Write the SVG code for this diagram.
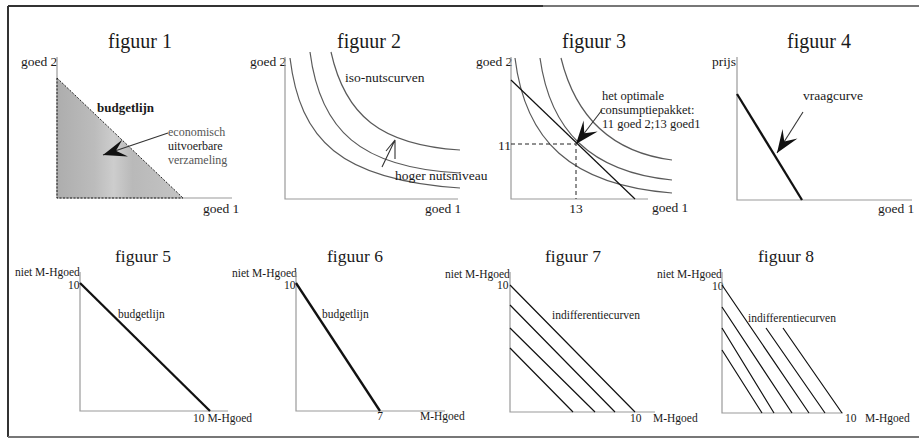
<svg xmlns="http://www.w3.org/2000/svg" width="919" height="448" viewBox="0 0 919 448" font-family="Liberation Serif, serif">
<defs>
<style>
text{font-family:"Liberation Serif",serif}
.t{fill:#1a1a1a}
.title{font-size:20px}
.title2{font-size:17.5px}
.ax{font-size:13.5px}
.ax2{font-size:11.5px}
.lbl{font-size:13.5px}
.lbl2{font-size:11.5px}
.gray{fill:#555}
.axis{stroke:#9a9a9a;stroke-width:1.2;fill:none}
.curve{stroke:#5a5a5a;stroke-width:1.2;fill:none}
.line{stroke:#111;stroke-width:1.2;fill:none}
.thick{stroke:#111;stroke-width:2.3;fill:none}
.dash{stroke:#222;stroke-width:1;stroke-dasharray:4,3;fill:none}
.conn{stroke:#333;stroke-width:1.1;fill:none}
</style>
<marker id="barb" markerUnits="userSpaceOnUse" markerWidth="30" markerHeight="30" viewBox="-20 -10 22 20" refX="0" refY="0" orient="auto">
<path d="M0,0 L-17,-7 L-10,0 L-17,6 Z" fill="#111"/>
</marker>
<linearGradient id="fill1" x1="0" x2="1" y1="0" y2="0">
<stop offset="0" stop-color="#adadad"/>
<stop offset="0.3" stop-color="#bcbcbc"/>
<stop offset="0.45" stop-color="#cdcdcd"/>
<stop offset="0.6" stop-color="#b9b9b9"/>
<stop offset="1" stop-color="#c4c4c4"/>
</linearGradient>
</defs>
<rect width="919" height="448" fill="#fff"/>
<g id="frame" fill="none">
<path d="M8,6 H543" stroke="#333" stroke-width="2"/>
<path d="M543,6 H919" stroke="#777" stroke-width="2"/>
<path d="M8,6 V437" stroke="#333" stroke-width="2"/>
<path d="M8,437 H919" stroke="#777" stroke-width="2"/>
</g>

<g id="figuur1">
<text class="t title" x="108" y="48">figuur 1</text>
<text class="t ax" x="21" y="66">goed 2</text>
<polygon points="57,78 183,198 57,198" fill="url(#fill1)"/>
<path class="axis" d="M57,57 V198 H232"/>
<path d="M57,78 L183,198 M57,78 V198 H183" stroke="#222" stroke-width="1" stroke-dasharray="2,1.5" fill="none"/>
<text class="t" font-size="13" x="97" y="112" font-weight="bold" fill="#222">budgetlijn</text>
<text class="t gray" font-size="12" x="168" y="136">economisch</text>
<text class="t" font-size="12" x="168" y="150" fill="#333">uitvoerbare</text>
<text class="t gray" font-size="12" x="168" y="164">verzameling</text>
<text class="t ax" x="203" y="213">goed 1</text>
</g>

<g id="figuur2">
<text class="t title" x="337" y="48">figuur 2</text>
<text class="t ax" x="250" y="66">goed 2</text>
<path class="axis" d="M285,57 V199 H458"/>
<path class="curve" d="M290,58 C300,140 340,180 460,188"/>
<path class="curve" d="M310,52 C320,130 360,168 460,173"/>
<path class="curve" d="M331,52 C345,115 380,145 460,150"/>
<text class="t lbl" x="345" y="82">iso-nutscurven</text>
<text class="t lbl" x="395" y="180">hoger nutsniveau</text>
<text class="t ax" x="425" y="213">goed 1</text>
</g>

<g id="figuur3">
<text class="t title" x="562" y="48">figuur 3</text>
<text class="t ax" x="476" y="66">goed 2</text>
<path class="axis" d="M511,57 V199 H648"/>
<path class="curve" d="M515,58 C525,140 570,185 672,193"/>
<path class="curve" d="M540,58 C550,130 590,172 672,180"/>
<path class="curve" d="M561,58 C575,115 610,152 672,160" stroke="#333"/>
<path class="line" d="M511,80 L635,199"/>
<path class="dash" d="M511,144 H576 V199"/>
<text class="t ax" x="498" y="150">11</text>
<text class="t ax" x="576" y="213" text-anchor="middle">13</text>
<text class="t" font-size="12.5" x="602" y="100">het optimale</text>
<text class="t" font-size="12.5" x="600" y="114">consumptiepakket:</text>
<text class="t" font-size="12.5" x="602" y="128">11 goed 2;13 goed1</text>
<text class="t ax" x="652" y="212">goed 1</text>
</g>

<g id="figuur4">
<text class="t title" x="787" y="48">figuur 4</text>
<text class="t ax" x="712" y="66">prijs</text>
<path class="axis" d="M737,57 V200 H912"/>
<path class="thick" d="M737,94 L802,200"/>
<text class="t lbl" x="803" y="100">vraagcurve</text>
<text class="t ax" x="878" y="213" fill="#444">goed 1</text>
</g>

<g id="figuur5">
<text class="t title2" x="115" y="262">figuur 5</text>
<text class="t ax2" x="15" y="276">niet M-Hgoed</text>
<text class="t ax2" x="68" y="289">10</text>
<path class="axis" d="M80,272 V411 H228"/>
<path class="thick" d="M80,283 L210,411"/>
<text class="t lbl2" x="118" y="318">budgetlijn</text>
<text class="t ax2" x="193" y="422">10 M-Hgoed</text>
</g>

<g id="figuur6">
<text class="t title2" x="327" y="262">figuur 6</text>
<text class="t ax2" x="232" y="277">niet M-Hgoed</text>
<text class="t ax2" x="284" y="289">10</text>
<path class="axis" d="M296,272 V411 H445"/>
<path class="thick" d="M296,283 L380,411"/>
<text class="t lbl2" x="322" y="318">budgetlijn</text>
<text class="t ax2" x="380" y="420" text-anchor="middle">7</text>
<text class="t ax2" x="420" y="420">M-Hgoed</text>
</g>

<g id="figuur7">
<text class="t title2" x="545" y="262">figuur 7</text>
<text class="t ax2" x="445" y="278">niet M-Hgoed</text>
<text class="t ax2" x="497" y="289">10</text>
<path class="axis" d="M510,272 V412 H655"/>
<path class="line" d="M510,285 L635,412 M510,305 L615,412 M510,328 L595,412 M510,348 L573,412"/>
<text class="t lbl2" x="552" y="319">indifferentiecurven</text>
<text class="t ax2" x="630" y="422">10</text>
<text class="t ax2" x="653" y="422">M-Hgoed</text>
</g>

<g id="figuur8">
<text class="t title2" x="758" y="262">figuur 8</text>
<text class="t ax2" x="657" y="278">niet M-Hgoed</text>
<text class="t ax2" x="712" y="290">10</text>
<path class="axis" d="M722,272 V413 H843"/>
<path class="line" d="M722,285 L809,413 M722,307 L792,413 M722,328 L774,413 M722,350 L762,413 M766,328 L825,413 M783,328 L842,413"/>
<text class="t lbl2" x="748" y="322">indifferentiecurven</text>
<text class="t ax2" x="845" y="422">10</text>
<text class="t ax2" x="865" y="422">M-Hgoed</text>
</g>

<g id="connectors">
<path class="conn" d="M168,133 L103,155" marker-end="url(#barb)"/>
<path class="conn" d="M382,167 L395,140 L395,159 M395,140 L386,151"/>
<path class="conn" d="M602,110 L576,144" marker-end="url(#barb)"/>
<path class="conn" d="M803,112 L777,153" marker-end="url(#barb)"/>
</g>
</svg>
